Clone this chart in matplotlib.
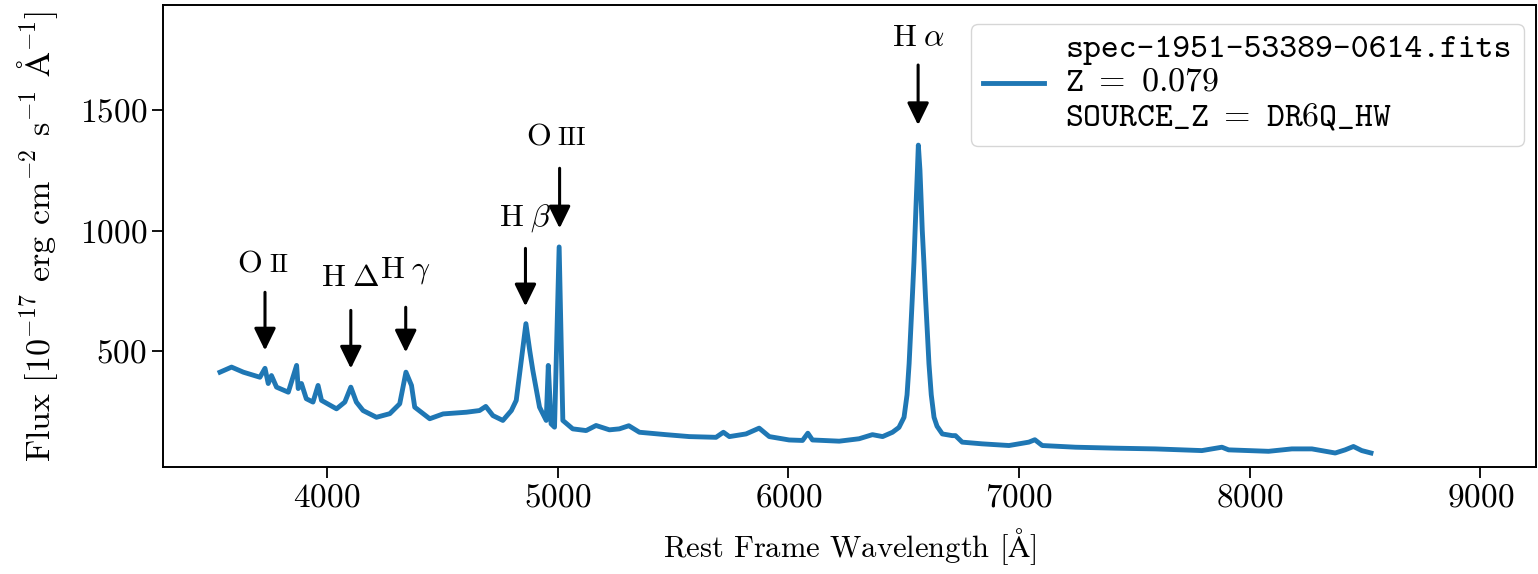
import matplotlib

matplotlib.use("Agg")
import matplotlib.pyplot as plt

# spectrum (rest-frame wavelength in Angstrom, flux)
wavelength = [
    3537, 3587, 3638, 3710, 3732, 3746, 3760, 3782, 3833, 3869,
    3876, 3890, 3911, 3940, 3962, 3977, 4042, 4078, 4104, 4128,
    4157, 4215, 4273, 4316, 4343, 4367, 4381, 4446, 4504, 4605,
    4662, 4689, 4720, 4763, 4800, 4821, 4843, 4863, 4880, 4893,
    4922, 4951, 4960, 4972, 4987, 5007, 5023, 5066, 5124, 5167,
    5225, 5268, 5309, 5355, 5470, 5571, 5687, 5719, 5745, 5817,
    5874, 5918, 6004, 6062, 6085, 6105, 6221, 6307, 6365, 6409,
    6452, 6480, 6502, 6515, 6524, 6538, 6545, 6550, 6555, 6560,
    6564, 6571, 6576, 6581, 6588, 6595, 6603, 6610, 6620, 6632,
    6645, 6668, 6711, 6725, 6754, 6840, 6957, 7043, 7069, 7101,
    7245, 7418, 7591, 7793, 7880, 7909, 8082, 8183, 8270, 8371,
    8414, 8450, 8486, 8526,
]
flux = [
    414, 435, 414, 393, 430, 367, 400, 352, 331, 442,
    346, 367, 304, 290, 359, 297, 262, 290, 352, 290,
    255, 227, 242, 283, 414, 359, 269, 221, 241, 248,
    255, 272, 234, 214, 255, 297, 463, 615, 500, 421,
    269, 214, 442, 200, 186, 933, 214, 179, 172, 193,
    175, 179, 192, 165, 155, 147, 144, 165, 147, 158,
    182, 147, 133, 131, 161, 133, 128, 138, 155, 147,
    165, 185, 227, 320, 449, 725, 870, 1002, 1130, 1251,
    1355, 1251, 1130, 1002, 870, 725, 580, 449, 320, 227,
    190, 158, 151, 151, 124, 117, 110, 124, 134, 110,
    103, 99, 96, 89, 103, 92, 86, 96, 96, 79,
    92, 106, 89, 79,
]

# emission-line markers: name, wavelength, arrow tip, arrow tail, label height
line_names = ["OII", "HDelta", "HGamma", "HBeta", "OIII", "HAlpha"]
line_wave = [3732, 4104, 4342, 4861, 5009, 6563]
arrow_tip = [504, 429, 496, 687, 1010, 1438]
arrow_tail = [745, 670, 683, 927, 1259, 1687]
label_y = [857, 803, 836, 1052, 1384, 1799]

plt.rcParams.update(
    {
        "font.family": "serif",
        "font.serif": ["cmr10"],
        "mathtext.fontset": "cm",
        "axes.formatter.use_mathtext": True,
        "axes.unicode_minus": False,
        "font.size": 23,
    }
)

fig = plt.figure(figsize=(15.38, 5.74), dpi=100)
ax = fig.add_axes([0.106, 0.186, 0.8925, 0.805])

ax.plot(
    wavelength,
    flux,
    color="#1f77b4",
    lw=3.5,
    label="spec-1951-53389-0614.fits\n"
    "$\\mathtt{Z}\\ =\\ 0.079$\n"
    "$\\mathtt{SOURCE\\_Z}\\ =\\ \\mathtt{DR6Q\\_HW}$",
)

arrow = {"arrowstyle": "-|>,head_length=0.45,head_width=0.22", "color": "black",
         "lw": 2.2, "mutation_scale": 30, "shrinkA": 0, "shrinkB": 0}
greek = {"HDelta": r"$\mathrm{H}\;\Delta$", "HGamma": r"$\mathrm{H}\;\gamma$",
         "HBeta": r"$\mathrm{H}\;\beta$", "HAlpha": r"$\mathrm{H}\;\alpha$"}

for name, wl, tip, tail, ly in zip(line_names, line_wave, arrow_tip, arrow_tail, label_y):
    ax.annotate("", xy=(wl, tip), xytext=(wl, tail), arrowprops=arrow)
    if name in greek:
        ax.text(wl, ly, greek[name], ha="center", va="center", fontsize=23)
    else:
        numeral = name[1:]
        shift = -3 if numeral == "II" else -9
        ax.annotate("O", xy=(wl, ly), xytext=(shift, 0), textcoords="offset pixels",
                    ha="right", va="center", fontsize=23)
        ax.annotate(numeral, xy=(wl, ly), xytext=(shift + 7, 0), textcoords="offset pixels",
                    ha="left", va="center", fontsize=19)

ax.set_xlim(3290, 9240)
ax.set_ylim(20, 1935)
ax.set_xticks([4000, 5000, 6000, 7000, 8000, 9000])
ax.set_yticks([500, 1000, 1500])
ax.tick_params(length=8, width=1.3, labelsize=24)
for spine in ax.spines.values():
    spine.set_linewidth(1.4)

ax.set_xlabel(r"Rest Frame Wavelength [$\mathrm{\AA}$]", labelpad=10, fontsize=22)
ax.set_ylabel(r"Flux [$10^{-17}$ erg cm$^{-2}$ s$^{-1}$ $\mathrm{\AA}^{-1}$]",
              labelpad=14, fontsize=24.5)

leg = ax.legend(loc="upper right", prop={"family": "cmtt10", "size": 24.5},
                handlelength=1.8, handletextpad=0.63, borderpad=0.35,
                borderaxespad=0.55, bbox_to_anchor=(1.005, 1.0))
leg.get_lines()[0].set_linewidth(3.5)

fig.savefig("out.png", dpi=100)
